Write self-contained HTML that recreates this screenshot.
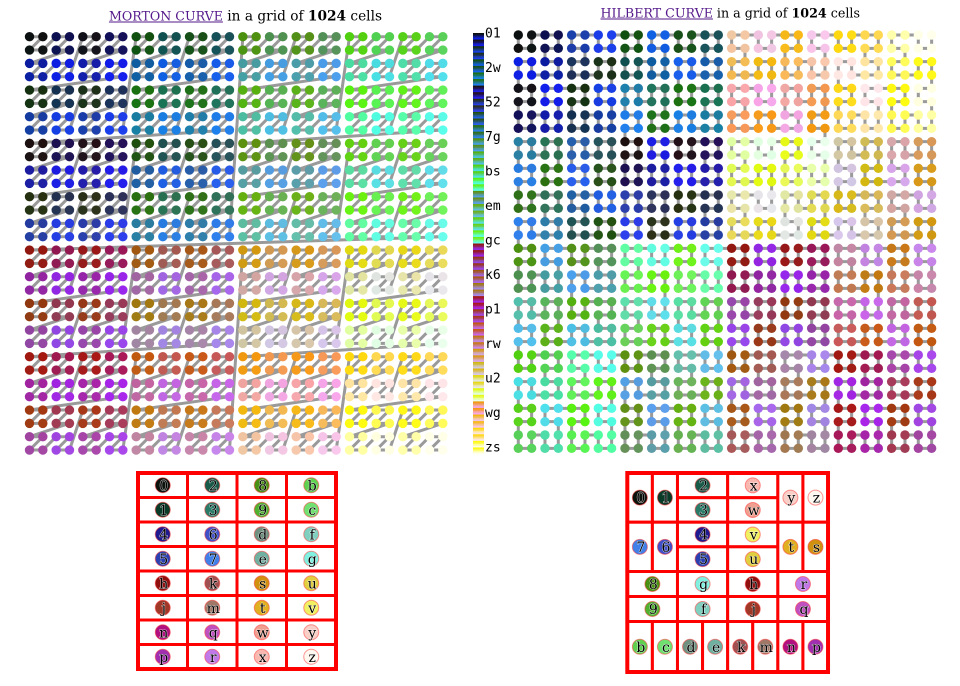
<!DOCTYPE html>
<html>
<head>
<meta charset="utf-8">
<style>
html,body{margin:0;padding:0;background:#fff;width:960px;height:686px;overflow:hidden;}
svg{display:block;}
</style>
</head>
<body>
<svg id="s" width="960" height="686" xmlns="http://www.w3.org/2000/svg">
  <rect x="0" y="0" width="960" height="686" fill="#fff"/>
  <text id="l1" x="109" y="20.5" font-family="DejaVu Serif, Liberation Serif, serif" font-size="13.6" fill="#551a8b">MORTON CURVE</text>
  <text id="r1" x="224" y="20.5" font-family="DejaVu Serif, Liberation Serif, serif" font-size="13.6" fill="#000">&#160;in a grid of <tspan font-weight="bold">1024</tspan> cells</text>
  <text id="l2" x="600.5" y="17.5" font-family="DejaVu Serif, Liberation Serif, serif" font-size="13.6" fill="#551a8b">HILBERT CURVE</text>
  <text id="r2" x="713" y="17.5" font-family="DejaVu Serif, Liberation Serif, serif" font-size="13.6" fill="#000">&#160;in a grid of <tspan font-weight="bold">1024</tspan> cells</text>
  <g id="ul"></g>
  <g id="mlines" fill="none" stroke="#9a9a9a" stroke-width="3" stroke-linejoin="round" stroke-linecap="round"></g>
  <g id="mdots"></g>
  <g id="hlines" fill="none" stroke="#9a9a9a" stroke-width="3" stroke-linejoin="round" stroke-linecap="round"></g>
  <g id="hdots"></g>
  <g id="cbar"></g>
  <g id="cbl" font-family="DejaVu Sans Mono, Liberation Mono, monospace" font-size="13" fill="#000">
    <text x="485" y="37.5">01</text>
    <text x="485" y="72">2w</text>
    <text x="485" y="106.5">52</text>
    <text x="485" y="141">7g</text>
    <text x="485" y="175.5">bs</text>
    <text x="485" y="210">em</text>
    <text x="485" y="244.5">gc</text>
    <text x="485" y="279">k6</text>
    <text x="485" y="313.5">p1</text>
    <text x="485" y="348">rw</text>
    <text x="485" y="382.5">u2</text>
    <text x="485" y="417">wg</text>
    <text x="485" y="451.5">zs</text>
  </g>
  <g id="leg1"></g>
  <g id="leg2"></g>
</svg>
<script>
(function(){
var NS="http://www.w3.org/2000/svg";
function el(tag,attrs,parent){var e=document.createElementNS(NS,tag);for(var k in attrs)e.setAttribute(k,attrs[k]);parent.appendChild(e);return e;}
function $(id){return document.getElementById(id);}
function clamp(v){return v<0?0:(v>255?255:Math.round(v));}
function mxy(i){var x=0,y=0;for(var b=0;b<5;b++){x|=((i>>(2*b))&1)<<b;y|=((i>>(2*b+1))&1)<<b;}return [x,y];}
function col(i){
  var p=mxy(i),x=p[0],y=p[1];
  var bx=x>>3,by=y>>2,cx=x&7,cy=y&3;
  var bx1=bx>>1,bx0=bx&1,by2=by>>2,by1=(by>>1)&1,by0=by&1;
  var x2=cx>>2,x1=(cx>>1)&1,x0=cx&1,y1=cy>>1,y0=cy&1;
  var R,G,B;
  if(by2){R=144+16*by1+16*bx0+16*bx0*by1+64*bx1+16*bx1*by1;}
  else{R=12+8*(by&3)+64*bx1+4*bx0;}
  R+=6*x2+4*x0-8*y1*bx1*(1-by2);
  G=16+64*bx+32*by0+8*by2+12*y1+4*y0;
  B=16+144*y1+64*x1+8*x2+4*y0;
  return 'rgb('+clamp(R)+','+clamp(G)+','+clamp(B)+')';
}
function d2xy(n,d){var rx,ry,s,t=d,x=0,y=0;for(s=1;s<n;s*=2){rx=1&(t>>1);ry=1&(t^rx);if(ry==0){if(rx==1){x=s-1-x;y=s-1-y;}var tmp=x;x=y;y=tmp;}x+=s*rx;y+=s*ry;t>>=2;}return [x,y];}
var S=426.667/32;
var cols=[];for(var i=0;i<1024;i++)cols.push(col(i));

// Morton
var MX=29.5,MY=36.7,d='';
var mdots=$('mdots');
for(var i=0;i<1024;i++){var p=mxy(i);var X=(MX+p[0]*S).toFixed(2),Y=(MY+p[1]*S).toFixed(2);d+=(i?'L':'M')+X+' '+Y;}
el('path',{d:d},$('mlines'));
for(var i=0;i<1024;i++){var p=mxy(i);el('circle',{cx:(MX+p[0]*S).toFixed(2),cy:(MY+p[1]*S).toFixed(2),r:4.7,fill:cols[i]},mdots);}

// Hilbert
var HX=518.3,HY=35.0;d='';
var hdots=$('hdots');
for(var i=0;i<1024;i++){var p=d2xy(32,i);var X=(HX+p[0]*S).toFixed(2),Y=(HY+p[1]*S).toFixed(2);d+=(i?'L':'M')+X+' '+Y;}
el('path',{d:d},$('hlines'));
for(var i=0;i<1024;i++){var p=d2xy(32,i);el('circle',{cx:(HX+p[0]*S).toFixed(2),cy:(HY+p[1]*S).toFixed(2),r:4.7,fill:cols[i]},hdots);}

// colorbar
var cb=$('cbar'),top=33,bot=454,h=(bot-top)/1024;
for(var i=0;i<1024;i++){el('rect',{x:473,y:(top+i*h).toFixed(3),width:11,height:(h+0.35).toFixed(3),fill:cols[i]},cb);}

// legend colors
var LC={'0':'#0c120c','1':'#0a3a28','2':'#1a5a48','3':'#2a7a68','4':'#201a90','5':'#2a40b0','6':'#4050c8','7':'#4080e8',
'8':'#4a9012','9':'#50b030','b':'#60d050','c':'#70e070','d':'#709080','e':'#70b0a0','f':'#80d0c0','g':'#80f0e0',
'h':'#901010','j':'#a03828','k':'#a05050','m':'#a07868','n':'#b01080','p':'#a030b0','q':'#c050c0','r':'#c078e8',
's':'#d09010','t':'#e0b020','u':'#e0d040','v':'#f0f060','w':'#f0a090','x':'#f8b8b0','y':'#f8d0c8','z':'#fff8f0'};
function leg(g,ch,x0,y0,x1,y1){
  el('rect',{x:x0,y:y0,width:(x1-x0).toFixed(2),height:(y1-y0).toFixed(2),fill:'#fff',stroke:'#ff0000','stroke-width':3},g);
  var cx=(x0+x1)/2,cy=(y0+y1)/2;
  el('circle',{cx:cx.toFixed(2),cy:cy.toFixed(2),r:7.5,fill:LC[ch],stroke:'rgba(255,60,60,0.55)','stroke-width':1},g);
  var t=el('text',{x:(cx+1).toFixed(2),y:(cy+5).toFixed(2),'text-anchor':'middle','font-family':'DejaVu Serif, Liberation Serif, serif','font-size':14,fill:'#000',stroke:'rgba(255,255,255,0.7)','stroke-width':1,'paint-order':'stroke'},g);
  t.textContent=ch;
}
// Morton legend
var g1=$('leg1');
var M=[['0','2','8','b'],['1','3','9','c'],['4','6','d','f'],['5','7','e','g'],['h','k','s','u'],['j','m','t','v'],['n','q','w','y'],['p','r','x','z']];
var mx0=138,mw=49.5,my0=473,mh=24.5;
for(var r=0;r<8;r++)for(var c=0;c<4;c++){leg(g1,M[r][c],mx0+c*mw,my0+r*mh,mx0+(c+1)*mw,my0+(r+1)*mh);}
el('rect',{x:mx0,y:my0,width:4*mw,height:8*mh,fill:'none',stroke:'#ff0000','stroke-width':4},g1);
// Hilbert legend
var g2=$('leg2');
var hx0=627.3,hw=25.09;
var RY=[473,497.7,522.2,546.8,571.5,596.5,621.5,672];
var HC=[['0',0,1,0,2],['1',1,1,0,2],['2',2,2,0,1],['3',2,2,1,1],['x',4,2,0,1],['w',4,2,1,1],['y',6,1,0,2],['z',7,1,0,2],
['7',0,1,2,2],['6',1,1,2,2],['4',2,2,2,1],['5',2,2,3,1],['v',4,2,2,1],['u',4,2,3,1],['t',6,1,2,2],['s',7,1,2,2],
['8',0,2,4,1],['g',2,2,4,1],['h',4,2,4,1],['r',6,2,4,1],
['9',0,2,5,1],['f',2,2,5,1],['j',4,2,5,1],['q',6,2,5,1],
['b',0,1,6,1],['c',1,1,6,1],['d',2,1,6,1],['e',3,1,6,1],['k',4,1,6,1],['m',5,1,6,1],['n',6,1,6,1],['p',7,1,6,1]];
for(var k=0;k<HC.length;k++){var q=HC[k];leg(g2,q[0],hx0+q[1]*hw,RY[q[3]],hx0+(q[1]+q[2])*hw,RY[q[3]+q[4]]);}
el('rect',{x:hx0,y:473,width:(8*hw).toFixed(2),height:199,fill:'none',stroke:'#ff0000','stroke-width':4},g2);

// titles
function fitTo(id,target){
  var t=$(id);
  try{
    var w=t.getComputedTextLength();
    if(w>0){var fs=13.6*target/w;if(fs>10&&fs<18)t.setAttribute('font-size',fs.toFixed(2));}
    return t.getComputedTextLength();
  }catch(e){return target;}
}
function title(lid,rid,x,lw,end,base){
  var w=fitTo(lid,lw);
  var rx=x+w;
  $(rid).setAttribute('x',rx.toFixed(2));
  fitTo(rid,end-rx);
  el('line',{x1:x,y1:base+1.5,x2:(x+w).toFixed(2),y2:base+1.5,stroke:'#551a8b','stroke-width':1},$('ul'));
}
title('l1','r1',109,114,382,20.5);
title('l2','r2',600.5,112.5,860,17.5);
})();
</script>
</body>
</html>
